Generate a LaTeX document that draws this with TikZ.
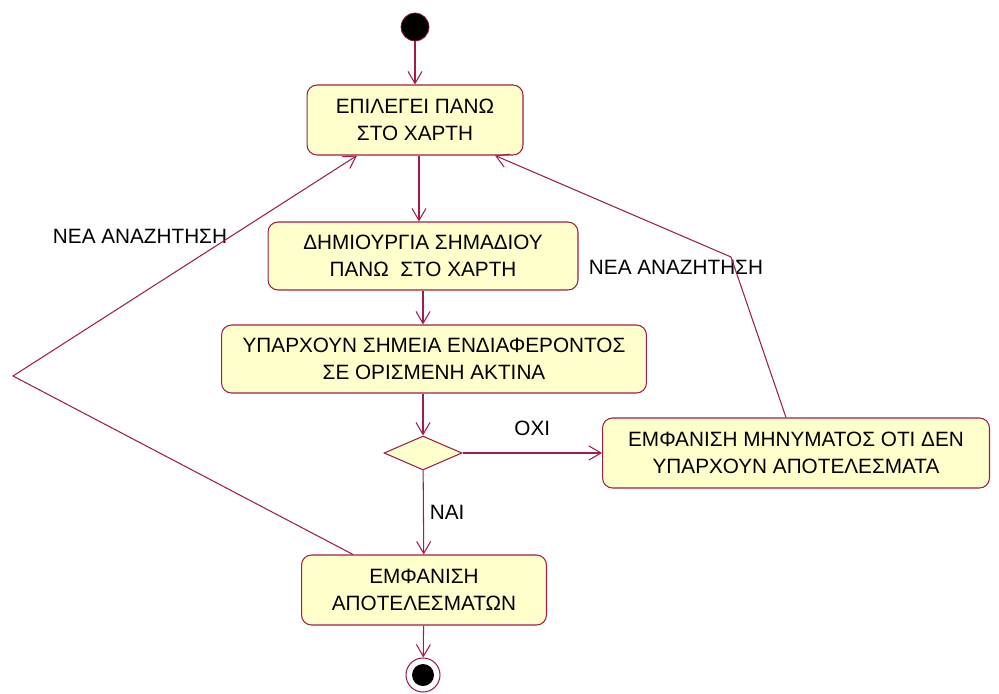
\documentclass[tikz,border=0pt]{standalone}
\usepackage{fontspec}
\setmainfont{Liberation Sans}
\usetikzlibrary{shapes.geometric, arrows.meta}
\definecolor{umlred}{RGB}{160,30,70}
\definecolor{umlfill}{RGB}{255,255,204}
\tikzstyle{activity} = [rectangle, rounded corners=0.2cm, text centered, align=center, draw=umlred, fill=umlfill, line width=0.6pt]
\tikzstyle{decision} = [diamond, minimum width=1.56cm, minimum height=0.68cm, inner sep=0pt, draw=umlred, fill=umlfill, line width=0.6pt]
\tikzstyle{initial} = [circle, minimum size=0.56cm, inner sep=0pt, draw=umlred, fill=black]
\tikzstyle{final} = [circle, minimum size=0.68cm, inner sep=0pt, draw=umlred, fill=white, line width=0.6pt,
  path picture={\fill[black] (path picture bounding box.center) circle (0.22cm);}]
\tikzstyle{arrow} = [umlred, line width=0.6pt, -{Straight Barb[length=2.4mm,width=2.8mm]}]
\tikzstyle{guard} = [text=black]

\begin{document}
\begin{tikzpicture}[x=0.02cm, y=-0.02cm, font=\fontsize{11.8}{15.3}\selectfont]

        \useasboundingbox (0,0) rectangle (999,693);

        \node (start) [initial] at (415,27) {};
        \node (choose) [activity, minimum width=4.32cm, minimum height=1.4cm] at (415,120) {ΕΠΙΛΕΓΕΙ ΠΑΝΩ\\ΣΤΟ ΧΑΡΤΗ};
        \node (marker) [activity, minimum width=6.2cm, minimum height=1.36cm] at (423,256) {ΔΗΜΙΟΥΡΓΙΑ ΣΗΜΑΔΙΟΥ\\ΠΑΝΩ\ \ ΣΤΟ ΧΑΡΤΗ};
        \node (points) [activity, minimum width=8.5cm, minimum height=1.36cm] at (434,359) {ΥΠΑΡΧΟΥΝ ΣΗΜΕΙΑ ΕΝΔΙΑΦΕΡΟΝΤΟΣ\\ΣΕ ΟΡΙΣΜΕΝΗ ΑΚΤΙΝΑ};
        \node (check) [decision] at (423,453) {};
        \node (noResults) [activity, minimum width=7.74cm, minimum height=1.4cm] at (796,453) {ΕΜΦΑΝΙΣΗ ΜΗΝΥΜΑΤΟΣ ΟΤΙ ΔΕΝ\\ΥΠΑΡΧΟΥΝ ΑΠΟΤΕΛΕΣΜΑΤΑ};
        \node (results) [activity, minimum width=4.9cm, minimum height=1.4cm] at (424,590) {ΕΜΦΑΝΙΣΗ\\ΑΠΟΤΕΛΕΣΜΑΤΩΝ};
        \node (end) [final] at (423,675) {};

        \coordinate (leftBend) at (13,376);
        \coordinate (rightBend) at (731,257);
        \node (leftLabel) at (140,236) {ΝΕΑ ΑΝΑΖΗΤΗΣΗ};
        \node (rightLabel) at (676,267) {ΝΕΑ ΑΝΑΖΗΤΗΣΗ};

        \draw [arrow] (start) -- (choose);
        \draw [arrow] ([xshift=0.08cm]choose.south) -- ([xshift=0.08cm]choose.south |- marker.north);
        \draw [arrow] (marker.south) -- (marker.south |- points.north);
        \draw [arrow] (points.south -| check) -- (check.north);
        \draw [arrow] (check) -- (noResults) node[guard, midway, above, yshift=6pt] {ΟΧΙ};
        \draw [arrow] (check) -- (results) node[guard, midway, right] {ΝΑΙ};
        \draw [arrow] (results) -- (end);
        \draw [arrow] ([xshift=-1.42cm]results.north) -- (leftBend) -- ([xshift=-1.16cm]choose.south);
        \draw [arrow] ([xshift=-0.2cm]noResults.north) -- (rightBend) -- ([xshift=1.6cm]choose.south);

    \end{tikzpicture}
\end{document}
